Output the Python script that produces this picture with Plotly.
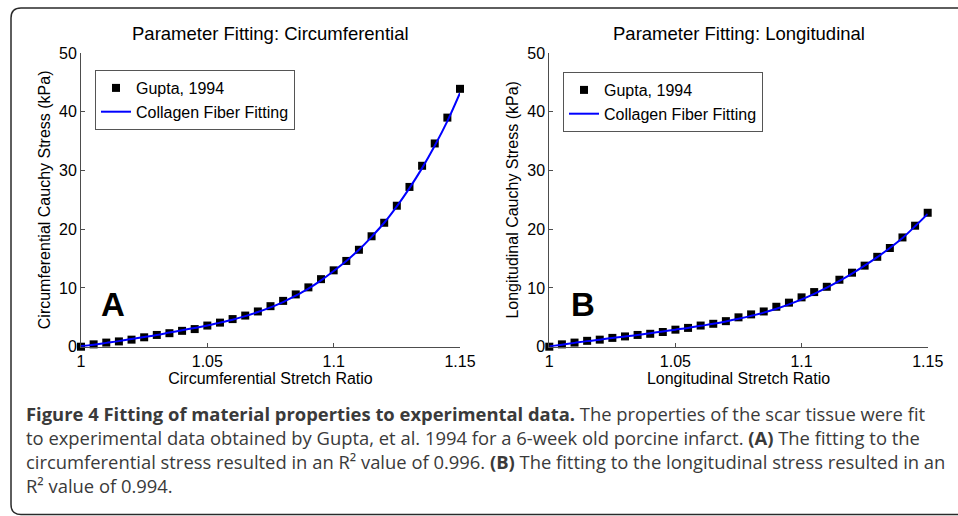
import plotly.graph_objects as go

W, H = 958, 516

# ---------------- data ----------------
stretch = [1.000, 1.005, 1.010, 1.015, 1.020, 1.025, 1.030, 1.035, 1.040, 1.045,
           1.050, 1.055, 1.060, 1.065, 1.070, 1.075, 1.080, 1.085, 1.090, 1.095,
           1.100, 1.105, 1.110, 1.115, 1.120, 1.125, 1.130, 1.135, 1.140, 1.145, 1.150]

circ_gupta = [0.0, 0.4, 0.7, 0.9, 1.2, 1.6, 2.0, 2.3, 2.7, 3.0,
              3.6, 4.1, 4.7, 5.3, 6.0, 6.9, 7.8, 8.9, 10.1, 11.5,
              13.0, 14.6, 16.5, 18.8, 21.1, 24.0, 27.2, 30.8, 34.6, 39.0, 43.9]
circ_fit = [0.1, 0.35, 0.65, 0.95, 1.3, 1.65, 2.0, 2.4, 2.8, 3.2,
            3.6, 4.1, 4.6, 5.2, 5.9, 6.7, 7.6, 8.7, 9.9, 11.3,
            12.9, 14.6, 16.5, 18.7, 21.1, 23.9, 27.0, 30.4, 34.2, 38.4, 43.2]

long_gupta = [0.0, 0.4, 0.7, 1.0, 1.2, 1.5, 1.75, 2.0, 2.2, 2.5,
              2.9, 3.2, 3.6, 3.9, 4.35, 5.0, 5.5, 6.0, 6.8, 7.5,
              8.4, 9.3, 10.2, 11.4, 12.6, 13.8, 15.3, 16.8, 18.6, 20.6, 22.8]
long_fit = [0.05, 0.35, 0.65, 0.95, 1.2, 1.5, 1.75, 2.0, 2.3, 2.6,
            2.9, 3.2, 3.55, 3.9, 4.3, 4.75, 5.25, 5.8, 6.45, 7.2,
            8.05, 9.0, 10.05, 11.2, 12.45, 13.8, 15.25, 16.8, 18.5, 20.5, 22.6]

x_tickvals = [1, 1.05, 1.1, 1.15]
x_ticktext = ["1", "1.05", "1.1", "1.15"]
y_tickvals = [0, 10, 20, 30, 40, 50]

titles = ["Parameter Fitting: Circumferential", "Parameter Fitting: Longitudinal"]
xtitles = ["Circumferential Stretch Ratio", "Longitudinal Stretch Ratio"]
ytitles = ["Circumferential Cauchy Stress (kPa)", "Longitudinal Cauchy Stress (kPa)"]
panel_letters = ["A", "B"]
series_names = ["Gupta, 1994", "Collagen Fiber Fitting"]

caption_lines = [
    "<b>Figure 4 Fitting of material properties to experimental data.</b> The properties of the scar tissue were fit",
    "to experimental data obtained by Gupta, et al. 1994 for a 6-week old porcine infarct. <b>(A)</b> The fitting to the",
    "circumferential stress resulted in an R² value of 0.996. <b>(B)</b> The fitting to the longitudinal stress resulted in an",
    "R² value of 0.994.",
]

# ---------------- layout helpers ----------------
def px(x):
    return x / W

def py(y):
    return 1 - y / H

AX_COL = "#4d4d4d"
FONT = "Arial, Liberation Sans, Helvetica, sans-serif"
FS = 16

fig = go.Figure()

panels = [
    dict(xd=[px(81), px(460)], yd=[py(346.7), py(53)], ys=(circ_gupta, circ_fit),
         legend="legend", leg=(95, 70), xa="x", ya="y"),
    dict(xd=[px(549.3), px(927.7)], yd=[py(346.7), py(53)], ys=(long_gupta, long_fit),
         legend="legend2", leg=(563, 72), xa="x2", ya="y2"),
]

for i, p in enumerate(panels):
    gup, fit = p["ys"]
    fig.add_trace(go.Scatter(
        x=stretch, y=gup, mode="markers", name=series_names[0],
        marker=dict(symbol="square", size=8, color="black", line=dict(width=0)),
        xaxis=p["xa"], yaxis=p["ya"], legend=p["legend"], cliponaxis=False))
    fig.add_trace(go.Scatter(
        x=stretch, y=fit, mode="lines", name=series_names[1], line_shape="spline",
        line=dict(color="#0000ff", width=2),
        xaxis=p["xa"], yaxis=p["ya"], legend=p["legend"], cliponaxis=False))

layout = dict(
    width=W, height=H,
    margin=dict(l=0, r=0, t=0, b=0, autoexpand=False),
    paper_bgcolor="white", plot_bgcolor="white",
    font=dict(family=FONT, size=FS, color="black"),
    annotations=[], shapes=[],
)

for i, p in enumerate(panels):
    sfx = "" if i == 0 else "2"
    layout["xaxis" + sfx] = dict(
        domain=p["xd"], range=[1, 1.15], anchor="y" + sfx,
        tickvals=x_tickvals, ticktext=x_ticktext,
        showline=True, linecolor=AX_COL, linewidth=1,
        ticks="inside", ticklen=4, tickcolor=AX_COL,
        showgrid=False, zeroline=False,
        tickfont=dict(size=FS, family=FONT, color="black"),
        title=dict(text=xtitles[i], font=dict(size=FS, family=FONT, color="black"), standoff=2),
        automargin=False,
    )
    layout["yaxis" + sfx] = dict(
        domain=p["yd"], range=[0, 50], anchor="x" + sfx,
        tickvals=y_tickvals,
        showline=True, linecolor=AX_COL, linewidth=1,
        ticks="inside", ticklen=4, tickcolor=AX_COL,
        showgrid=False, zeroline=False,
        tickfont=dict(size=FS, family=FONT, color="black"),
        title=dict(text=ytitles[i], font=dict(size=FS, family=FONT, color="black"), standoff=4),
        automargin=False,
    )
    lx, ly = p["leg"]
    layout[p["legend"]] = dict(
        x=px(lx), y=py(ly), xanchor="left", yanchor="top",
        bordercolor="#555555", borderwidth=1, bgcolor="white",
        font=dict(size=FS, family=FONT, color="black"),
        tracegroupgap=0, itemwidth=30,
    )
    # title
    layout["annotations"].append(dict(
        text=titles[i], xref="paper", yref="paper",
        x=(p["xd"][0] + p["xd"][1]) / 2, y=py(33), xanchor="center", yanchor="middle",
        showarrow=False, font=dict(size=18.5, family=FONT, color="black")))
    # panel letter
    layout["annotations"].append(dict(
        text="<b>" + panel_letters[i] + "</b>", xref="x" + sfx, yref="y" + sfx,
        x=1.0125 if i == 0 else 1.0134, y=7.1, xanchor="center", yanchor="middle",
        showarrow=False, font=dict(size=33, family=FONT, color="black")))

layout["showlegend"] = True

# caption as a single multi-line text block
layout["annotations"].append(dict(
    text="<br>".join(caption_lines), xref="paper", yref="paper", x=px(24), y=py(399),
    xanchor="left", yanchor="top", showarrow=False, align="left",
    font=dict(size=18.4, family="Open Sans, Noto Sans, sans-serif", color="#3a3a3a")))

# rounded frame (open on the right, cut by the image edge)
r = 10
xl, yt, yb = 11, 8, 514.5
path = (f"M {px(W)} {py(yb)} L {px(xl + r)} {py(yb)} "
        f"Q {px(xl)} {py(yb)} {px(xl)} {py(yb - r)} "
        f"L {px(xl)} {py(yt + r)} Q {px(xl)} {py(yt)} {px(xl + r)} {py(yt)} "
        f"L {px(W)} {py(yt)}")
layout["shapes"].append(dict(type="path", path=path, xref="paper", yref="paper",
                             fillcolor="rgba(0,0,0,0)",
                             line=dict(color="#2a2a2a", width=1.5)))

fig.update_layout(**layout)
fig.write_html(
    "out.html",
    config={"displayModeBar": False},
    post_script="document.body.style.margin='0';document.body.style.overflow='hidden';",
)
